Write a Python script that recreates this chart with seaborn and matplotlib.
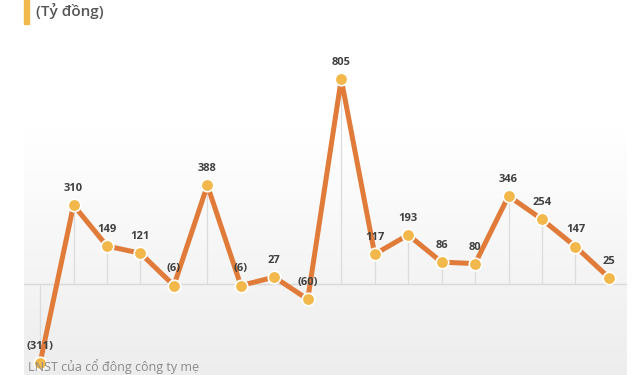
import matplotlib.pyplot as plt
import numpy as np
import pandas as pd
import seaborn as sns

sns.set_theme(style="white")
plt.rcParams['font.family'] = ['Open Sans', 'DejaVu Sans']

# LNST cua co dong cong ty me, ty dong
periods = list(range(18))
profit = [-311, 310, 149, 121, -6, 388, -6, 27, -60, 805, 117, 193, 86, 80, 346, 254, 147, 25]

df = pd.DataFrame({"period": periods, "profit": profit})

fig = plt.figure(figsize=(6.4, 3.75), dpi=100)
ax = fig.add_axes([24 / 640, 0, (627 - 24) / 640, (375 - 40) / 375])

px = 0.2545  # pixels per unit
y_top = (284 - 40) / px
y_bot = -(375 - 284) / px
ax.set_xlim(-0.48, 17.54)
ax.set_ylim(y_bot, y_top)

# gradient background: white above, light grey toward the bottom
grad_start = (284 - 130) / px
yy = np.linspace(y_bot, y_top, 200)
shade = np.clip((grad_start - yy) / (grad_start - y_bot), 0, 1)
col = (1 - 0.07 * shade)[:, None]
img = np.dstack([col, col, col])
ax.imshow(img, extent=[-0.48, 17.54, y_bot, y_top], origin="lower", aspect="auto", zorder=0)

ax.axhline(0, color="#d9d9d9", lw=1, zorder=1)
ax.vlines(df["period"], 0, df["profit"], color="#dcdcdc", lw=0.9, zorder=1)

sns.lineplot(data=df, x="period", y="profit", ax=ax, color="#E07B39", lw=3.6,
             marker="o", markersize=9, markerfacecolor="#F2B84B",
             markeredgecolor="white", markeredgewidth=1.2, zorder=3)

for x, v in zip(periods, profit):
    lab = f"({abs(v)})" if v < 0 else str(v)
    ax.annotate(lab, (x, v), xytext=(0, 8), textcoords="offset points",
                ha="center", va="bottom", fontsize=8, fontweight="bold",
                color="#404040", zorder=4)

ax.set_axis_off()

fig.patches.append(plt.Rectangle((24 / 640, 1 - 24 / 375), 5 / 640, 24 / 375,
                                 transform=fig.transFigure, color="#F2B84B"))
fig.text(36 / 640, 1 - 11 / 375, "(Tỷ đồng)", fontsize=11, color="#555555",
         va="center", ha="left", fontweight="semibold")
fig.text(28 / 640, 1 - 367 / 375, "LNST của cổ đông công ty mẹ", fontsize=9,
         color="#8a8a8a", va="center", ha="left")

fig.savefig("out.png", dpi=100)
